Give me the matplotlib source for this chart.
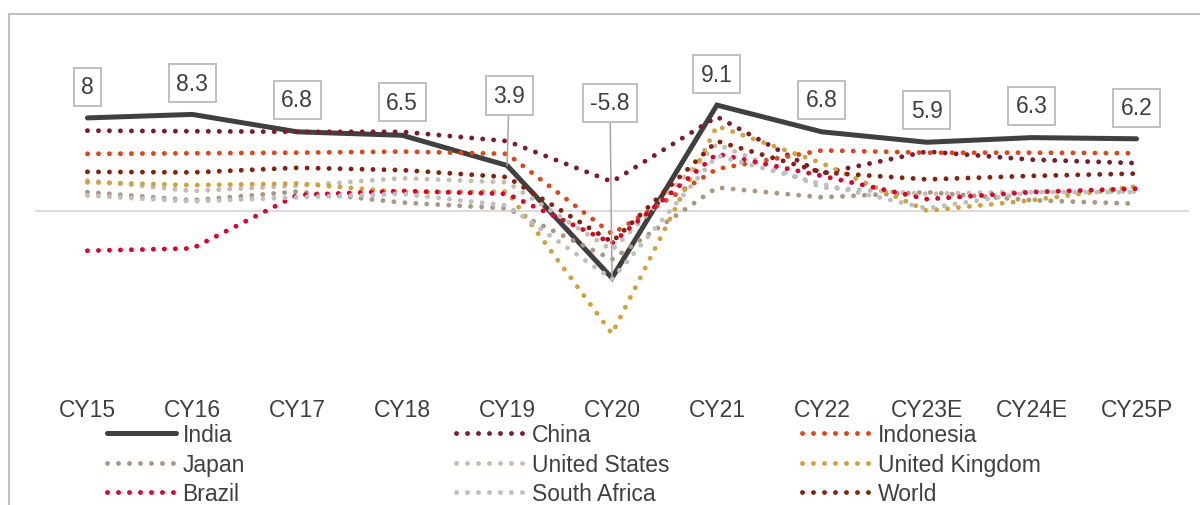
import matplotlib

matplotlib.use("Agg")
import matplotlib.pyplot as plt
from matplotlib.lines import Line2D

# --- data -------------------------------------------------------------------
years = ["CY15", "CY16", "CY17", "CY18", "CY19", "CY20",
         "CY21", "CY22", "CY23E", "CY24E", "CY25P"]

india = [8.0, 8.3, 6.8, 6.5, 3.9, -5.8, 9.1, 6.8, 5.9, 6.3, 6.2]
china = [6.9, 6.85, 6.8, 6.8, 6.0, 2.5, 8.1, 3.2, 5.1, 4.4, 4.1]
indonesia = [4.9, 4.95, 5.0, 5.1, 4.9, -2.0, 3.6, 5.2, 5.0, 5.0, 4.95]
japan = [1.6, 0.9, 1.65, 0.7, 0.2, -4.2, 2.0, 1.15, 1.6, 0.9, 0.6]
united_states = [2.6, 1.7, 2.15, 2.8, 2.45, -3.4, 5.75, 2.0, 1.45, 1.65, 1.65]
united_kingdom = [2.45, 2.2, 2.35, 1.6, 1.65, -10.6, 7.3, 4.1, 0.0, 0.9, 2.1]
brazil = [-3.45, -3.25, 1.35, 1.7, 1.45, -2.8, 4.9, 3.0, 1.0, 1.6, 1.9]
south_africa = [1.3, 0.8, 1.15, 1.45, 0.45, -5.9, 4.75, 2.3, 0.2, 1.6, 1.6]
world = [3.35, 3.3, 3.7, 3.5, 2.9, -2.7, 6.0, 3.3, 2.7, 3.0, 3.2]

# --- style ------------------------------------------------------------------
TEXT = "#404040"
FS = 16.5
plt.rcParams["font.family"] = ["Liberation Sans", "DejaVu Sans"]

colors = {
    "India": "#404040",
    "China": "#7B1C2E",
    "Indonesia": "#E0441A",
    "Japan": "#A89884",
    "United States": "#C8BCB0",
    "United Kingdom": "#D4A03C",
    "Brazil": "#E0002B",
    "South Africa": "#BFBFBF",
    "World": "#85220E",
}

series = [
    ("India", india),
    ("China", china),
    ("Indonesia", indonesia),
    ("Japan", japan),
    ("United States", united_states),
    ("United Kingdom", united_kingdom),
    ("Brazil", brazil),
    ("South Africa", south_africa),
    ("World", world),
]

# label offsets above the India points (pixels)
label_dy = [31, 31, 32, 33, 70, 175, 31, 32, 32, 32, 31]
label_dx = [0, 0, 0, 0, 2, -2, 0, 0, 0, 0, 0]

W, H = 1200, 506
fig = plt.figure(figsize=(W / 100, H / 100), dpi=100)
ax = fig.add_axes([35 / W, 1 - 397 / H, (1189 - 35) / W, (397 - 30) / H])

x = list(range(len(years)))
handles = {}
for name, vals in series:
    if name == "India":
        (ln,) = ax.plot(x, vals, color=colors[name], lw=3.6,
                        solid_capstyle="round", solid_joinstyle="miter", zorder=3)
    else:
        (ln,) = ax.plot(x, vals, color=colors[name], lw=3.5,
                        linestyle=(0, (0.01, 2.25)), dash_capstyle="round", zorder=4)
    handles[name] = ln

ax.axhline(0, color="#D9D9D9", lw=1.3, zorder=1)
ax.set_xlim(-0.5, len(years) - 0.5)
ax.set_ylim(-(397 - 211.7) / 11.6, (211.7 - 30) / 11.6)
ax.set_yticks([])
ax.set_xticks(x)
ax.set_xticklabels(years, fontsize=FS, color=TEXT)
ax.tick_params(axis="x", length=0, pad=1.2)
for sp in ax.spines.values():
    sp.set_visible(False)

# data labels for India
for i, v in enumerate(india):
    lbl = f"{v:g}"
    arrow = None
    if label_dy[i] > 50:
        arrow = dict(arrowstyle="-", color="#A6A6A6", lw=1.1, shrinkA=0, shrinkB=0)
    ax.annotate(lbl, (i, v), xytext=(label_dx[i], label_dy[i]), textcoords="offset pixels",
                ha="center", va="center", fontsize=FS, color=TEXT, zorder=6,
                bbox=dict(boxstyle="square,pad=0.33", fc="white", ec="#BFBFBF", lw=1.4),
                arrowprops=arrow)

# outer chart frame (left and top edges visible)
fig.add_artist(Line2D([8.5 / W, 8.5 / W], [0, 1 - 15 / H], color="#BFBFBF", lw=1.5,
                      transform=fig.transFigure))
fig.add_artist(Line2D([8.5 / W, 1], [1 - 15 / H, 1 - 15 / H], color="#BFBFBF", lw=1.5,
                      transform=fig.transFigure))

# legend: three columns of equal width
columns = [["India", "Japan", "Brazil"],
           ["China", "United States", "South Africa"],
           ["Indonesia", "United Kingdom", "World"]]
col_x = [107, 456, 802]
for names, cx in zip(columns, col_x):
    leg = fig.legend([handles[n] for n in names], names, loc="upper left",
                     bbox_to_anchor=(cx / W, 1 - 424 / H), frameon=False,
                     fontsize=FS, borderpad=0, borderaxespad=0, handlelength=3.0,
                     handletextpad=0.3, labelspacing=0.29)
    for t in leg.get_texts():
        t.set_color(TEXT)

fig.savefig("out.png", dpi=100)
